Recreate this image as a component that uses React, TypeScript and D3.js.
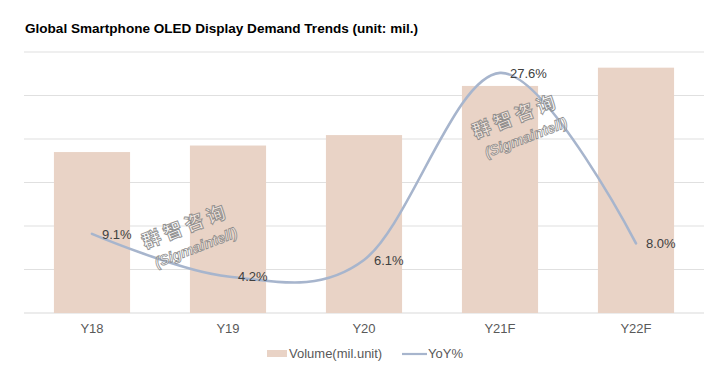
import React from "react";
import * as d3 from "d3";

const categories = ["Y18", "Y19", "Y20", "Y21F", "Y22F"];
const volume = [370, 385, 409, 522, 564];
const yoy = [9.1, 4.2, 6.1, 27.6, 8.0];
const yoyLabels = ["9.1%", "4.2%", "6.1%", "27.6%", "8.0%"];
const volumeTicks = [0, 100, 200, 300, 400, 500, 600];
const seriesNames = ["Volume(mil.unit)", "YoY%"];
const title = "Global Smartphone OLED Display Demand Trends (unit: mil.)";
const watermarkCn = "群智咨询";
const watermarkEn = "(Sigmaintell)";

const W = 725;
const H = 379;
const plot = { left: 24, right: 704, top: 52, bottom: 313 };
const barColor = "#e9d3c6";
const lineColor = "#a7b5cd";
const font = "Arial, 'Liberation Sans', sans-serif";

export default function App() {
  const x = d3
    .scaleBand<string>()
    .domain(categories)
    .range([plot.left, plot.right])
    .paddingInner(0.44)
    .paddingOuter(0.22);
  const y = d3.scaleLinear().domain([0, 600]).range([plot.bottom, plot.top]);
  const y2 = d3.scaleLinear().domain([0, 30]).range([plot.bottom, plot.top]);
  const cx = (c: string) => (x(c) as number) + x.bandwidth() / 2;

  const pts: [number, number][] = categories.map((c, i) => [cx(c), y2(yoy[i])]);
  const linePath = d3.line().curve(d3.curveCardinal.tension(0))(pts) || "";

  const watermarks = [
    { x: 190, y: 238 },
    { x: 520, y: 128 },
  ];

  return (
    <svg width={W} height={H} style={{ position: "absolute", left: 0, top: 0 }} fontFamily={font}>
      <rect width={W} height={H} fill="#fff" />
      <text x={25} y={33} fontSize={13.6} fontWeight="bold" fill="#000" textLength={393} lengthAdjust="spacingAndGlyphs">
        {title}
      </text>
      {volumeTicks.map((t) => (
        <line
          key={t}
          x1={plot.left}
          x2={plot.right}
          y1={y(t)}
          y2={y(t)}
          stroke={t === 0 ? "#d9d9d9" : "#e0e0e0"}
          strokeWidth={1.2}
        />
      ))}
      {categories.map((c, i) => (
        <rect
          key={c}
          x={x(c)}
          y={y(volume[i])}
          width={x.bandwidth()}
          height={y(0) - y(volume[i])}
          fill={barColor}
        />
      ))}
      <path d={linePath} fill="none" stroke={lineColor} strokeWidth={2.6} strokeLinecap="round" />
      {pts.map((p, i) => (
        <text key={i} x={p[0] + 10} y={p[1] + 5} fontSize={13} fill="#404040">
          {yoyLabels[i]}
        </text>
      ))}
      {categories.map((c) => (
        <text key={c} x={cx(c)} y={333} fontSize={13} fill="#595959" textAnchor="middle">
          {c}
        </text>
      ))}
      {watermarks.map((w, i) => (
        <g key={i} transform={`translate(${w.x},${w.y}) rotate(-21)`} opacity={0.9}>
          <text
            x={0}
            y={-6}
            fontSize={19}
            fontWeight="bold"
            textAnchor="middle"
            fill="#ffffff"
            fillOpacity={0.5}
            stroke="#858585"
            strokeWidth={0.9}
            letterSpacing={4}
            fontFamily="'Noto Sans CJK SC', sans-serif"
          >
            {watermarkCn}
          </text>
          <text
            x={2}
            y={16}
            fontSize={14.5}
            fontWeight="bold"
            fontStyle="italic"
            textAnchor="middle"
            fill="#ffffff"
            fillOpacity={0.5}
            stroke="#858585"
            strokeWidth={0.8}
          >
            {watermarkEn}
          </text>
        </g>
      ))}
      <rect x={267} y={350} width={20} height={7} fill={barColor} />
      <text x={289} y={358} fontSize={13} fill="#595959">
        {seriesNames[0]}
      </text>
      <line x1={402} x2={427} y1={354} y2={354} stroke={lineColor} strokeWidth={2.2} />
      <text x={428} y={358} fontSize={13} fill="#595959">
        {seriesNames[1]}
      </text>
    </svg>
  );
}
